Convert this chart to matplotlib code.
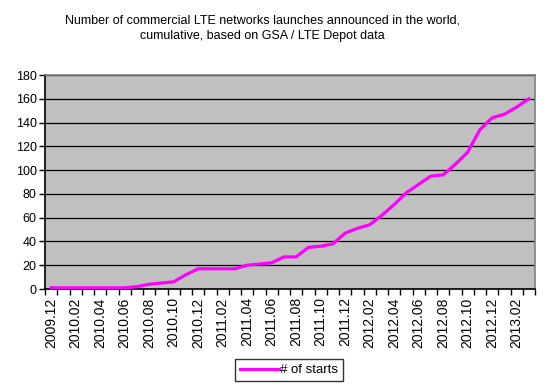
import matplotlib
matplotlib.use("Agg")
import matplotlib.pyplot as plt
from matplotlib.ticker import FixedLocator
import numpy as np

plt.rcParams["font.family"] = ["Liberation Sans", "DejaVu Sans"]

# ── data ──────────────────────────────────────────────────────────────────────
months = []
for y in range(2009, 2014):
    for m in range(1, 13):
        if (y, m) >= (2009, 12) and (y, m) <= (2013, 3):
            months.append(f"{y}.{m:02d}")

starts = [1, 1, 1, 1, 1, 1, 1, 2, 4, 5,
          6, 12, 17, 17, 17, 17, 20, 21, 22, 27,
          27, 35, 36, 38, 47, 51, 54, 62, 71, 81,
          88, 95, 96, 105, 115, 134, 144, 147, 153, 160]

TITLE = ("Number of commercial LTE networks launches announced in the world,\n"
         "cumulative, based on GSA / LTE Depot data")

# ── figure ────────────────────────────────────────────────────────────────────
fig = plt.figure(figsize=(5.45, 3.85), dpi=100)
ax = fig.add_axes([45/545, 1 - 289/385, 490/545, 214/385])
ax.set_facecolor("#C0C0C0")

x = np.arange(len(months))
line, = ax.plot(x, starts, color="#FF00FF", lw=2.3, label="# of starts",
                solid_joinstyle="round", zorder=3)

ax.set_xlim(-0.5, len(months) - 0.5)
ax.set_ylim(0, 180)
ax.set_yticks(range(0, 181, 20))
ax.yaxis.grid(True, color="black", lw=0.9)
ax.set_axisbelow(True)

# tick marks between categories, labels on every second category
ax.xaxis.set_major_locator(FixedLocator(np.arange(-0.5, len(months), 1)))
ax.xaxis.set_major_formatter(plt.NullFormatter())
ax.xaxis.set_minor_locator(FixedLocator(x[::2]))
ax.set_xticklabels([months[i] for i in x[::2]], minor=True, rotation=90,
                   fontsize=10)
ax.tick_params(axis="x", which="major", direction="out", length=4,
               width=1, color="black")
ax.tick_params(axis="x", which="minor", length=0, pad=6)
ax.tick_params(axis="y", direction="out", length=4, width=1,
               labelsize=9, pad=2)

for s in ("top", "right"):
    ax.spines[s].set_color("#808080")
    ax.spines[s].set_linewidth(1.2)
for s in ("left", "bottom"):
    ax.spines[s].set_color("black")
    ax.spines[s].set_linewidth(1.2)

fig.text(0.482, 1 - 28/385, TITLE, ha="center", va="center", fontsize=9,
         linespacing=1.35)

leg = fig.legend(handles=[line], loc="center", bbox_to_anchor=(289/545, 1 - 370/385),
                 fontsize=9.5, frameon=True, fancybox=False, handlelength=3.0,
                 handletextpad=0.1, borderpad=0.35, borderaxespad=0)
leg.get_frame().set_edgecolor("black")
leg.get_frame().set_linewidth(1.0)

fig.savefig("out.png", dpi=100)
